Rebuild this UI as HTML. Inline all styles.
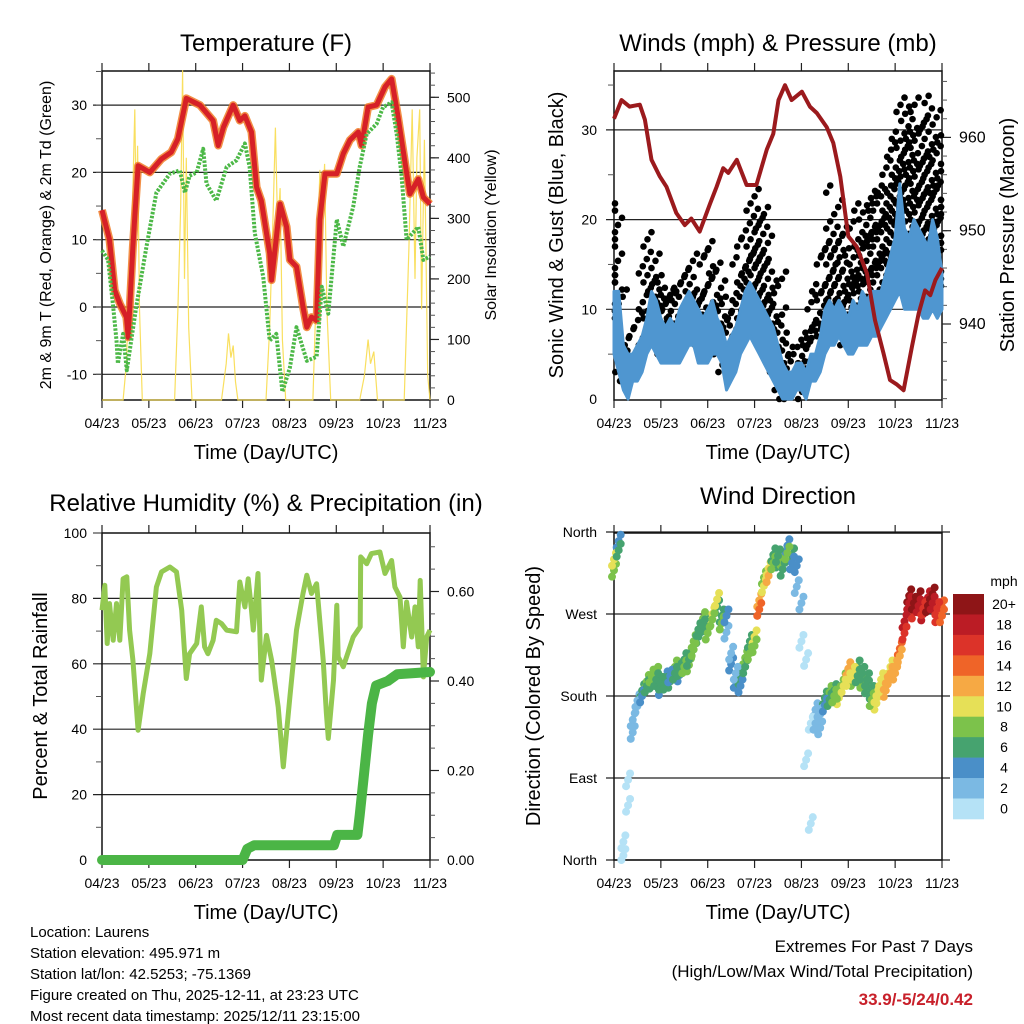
<!DOCTYPE html>
<html><head><meta charset="utf-8"><title>Station Meteogram</title>
<style>
html,body{margin:0;padding:0;background:#fff;}
svg{display:block;font-family:"Liberation Sans",Arial,sans-serif;}
</style></head>
<body>
<svg id="chart" width="1024" height="1024" viewBox="0 0 1024 1024" xmlns="http://www.w3.org/2000/svg">
<rect x="0" y="0" width="1024" height="1024" fill="#fff"/>
<g id="layer"></g>
<text x="266" y="51" font-size="24" text-anchor="middle">Temperature (F)</text>
<text x="778" y="51" font-size="24" text-anchor="middle">Winds (mph) &amp; Pressure (mb)</text>
<text x="266" y="511" font-size="24" text-anchor="middle">Relative Humidity (%) &amp; Precipitation (in)</text>
<text x="778" y="504" font-size="24" text-anchor="middle">Wind Direction</text>
<text x="266" y="459" font-size="20" text-anchor="middle">Time (Day/UTC)</text>
<text x="778" y="459" font-size="20" text-anchor="middle">Time (Day/UTC)</text>
<text x="266" y="919" font-size="20" text-anchor="middle">Time (Day/UTC)</text>
<text x="778" y="919" font-size="20" text-anchor="middle">Time (Day/UTC)</text>
<text transform="translate(51,235) rotate(-90)" font-size="16" text-anchor="middle">2m &amp; 9m T (Red, Orange) &amp; 2m Td (Green)</text>
<text transform="translate(496,235) rotate(-90)" font-size="16" text-anchor="middle">Solar Insolation (Yellow)</text>
<text transform="translate(563,235) rotate(-90)" font-size="20" text-anchor="middle">Sonic Wind &amp; Gust (Blue, Black)</text>
<text transform="translate(1014,235) rotate(-90)" font-size="20" text-anchor="middle">Station Pressure (Maroon)</text>
<text transform="translate(47,696) rotate(-90)" font-size="20" text-anchor="middle">Percent &amp; Total Rainfall</text>
<text transform="translate(540,696) rotate(-90)" font-size="20" text-anchor="middle">Direction (Colored By Speed)</text>
<text x="1004" y="586" font-size="14" text-anchor="middle">mph</text>
<g font-size="15">
<text x="30" y="937">Location: Laurens</text>
<text x="30" y="958">Station elevation: 495.971 m</text>
<text x="30" y="979">Station lat/lon: 42.5253; -75.1369</text>
<text x="30" y="1000">Figure created on Thu, 2025-12-11, at 23:23 UTC</text>
<text x="30" y="1021">Most recent data timestamp: 2025/12/11 23:15:00</text>
</g>
<text x="973" y="952" font-size="17" text-anchor="end">Extremes For Past 7 Days</text>
<text x="973" y="977" font-size="17" text-anchor="end">(High/Low/Max Wind/Total Precipitation)</text>
<text x="973" y="1005" font-size="17" font-weight="bold" fill="#c8202a" text-anchor="end">33.9/-5/24/0.42</text>
</svg>
<script>
// ---------- data ----------
const xTickLabels = ["04/23","05/23","06/23","07/23","08/23","09/23","10/23","11/23"];
const tempTicks = [-10,0,10,20,30];
const solarTicks = [0,100,200,300,400,500];
const windTicks = [0,10,20,30];
const pressTicks = [940,950,960];
const rhTicks = [0,20,40,60,80,100];
const precipTicks = [0,0.2,0.4,0.6];
const dirTicks = [0,90,180,270,360];
const dirLabels = ["North","East","South","West","North"];
const speedBins = ["20+","18","16","14","12","10","8","6","4","2","0"];

const tempT = [0,0.16,0.27,0.38,0.52,0.56,0.66,0.77,1.02,1.27,1.48,1.62,1.80,2.09,2.37,2.48,2.59,2.80,2.94,3.05,3.19,3.30,3.40,3.58,3.62,3.80,3.94,4.01,4.15,4.29,4.37,4.47,4.58,4.65,4.76,5.01,5.15,5.29,5.47,5.54,5.68,5.86,6.04,6.18,6.32,6.47,6.57,6.75,6.86,7];
const tempV = [14.4,10,2.5,0.5,-1.5,-4.5,9,21,20,22,23,25,31,30,27.7,24,26.7,30,27.7,28.4,26,17.8,15.8,8,4,15.3,11.9,7,6,0,-3,-1.5,-2,13,19.8,19.8,22.8,24.8,26,24,29.7,30,32.7,33.9,28.2,21.3,16.8,19,16.3,15.3];
const dewT = [0,0.13,0.24,0.31,0.34,0.45,0.53,0.73,0.95,1.16,1.45,1.66,1.77,1.87,2.02,2.16,2.23,2.44,2.66,2.87,3.05,3.15,3.26,3.44,3.58,3.72,3.85,4.01,4.15,4.37,4.58,4.69,4.83,5.01,5.15,5.36,5.50,5.65,5.86,6.00,6.18,6.29,6.39,6.50,6.75,6.86,7];
const dewV = [8.4,7,0,-5,-8.4,-4,-9.4,0,9,17,19.8,20.3,17,19.5,20,23.5,18.3,15.8,20.8,21.8,24.3,20.8,11,4.5,-5,-4,-12.6,-9,-3,-8,-7.4,3,-1,13,9,14.9,20.8,25.7,27.2,29.7,30.4,25.7,19.8,10,11.9,7,7.5];
const solarT = [0,0.45,0.52,0.58,0.62,0.66,0.70,0.73,0.76,0.80,0.86,1.55,1.62,1.68,1.72,1.76,1.80,1.85,1.92,2.55,2.65,2.70,2.75,2.80,2.85,2.90,3.50,3.58,3.65,3.70,3.75,3.80,3.85,3.92,4.50,4.58,4.65,4.70,4.75,4.80,4.88,5.50,5.60,5.68,5.73,5.80,5.88,6.45,6.55,6.62,6.68,6.72,6.78,6.82,6.88,6.95,7];
const solarV = [0,0,60,200,120,350,480,300,420,150,0,0,150,320,545,200,400,120,0,0,60,110,70,90,30,0,0,120,300,450,280,350,100,0,0,200,380,300,390,150,0,0,40,100,60,80,0,0,250,480,200,400,480,150,430,40,0];

const windMin = [5,3,1,0,2,2,3,5,6,5,4,4,4,4,4,5,6,6,4,4,4,5,5,4,1,2,3,5,6,7,6,5,4,3,2,1,0,0,0,1,1,0,2,2,3,5,6,6,7,6,5,5,6,6,6,7,7,8,9,10,11,12,10,10,10,10,9,9,10,9,10];
const windMax = [12,12,6,5,5,6,7,9,12,11,9,8,9,8,10,11,12,11,10,9,10,11,9,8,6,7,8,10,12,13,12,11,10,9,8,6,4,3,3,4,4,3,5,5,7,10,11,10,11,10,9,11,10,12,11,12,12,12,14,16,18,24,19,18,20,19,18,17,20,18,14];
const gustMax = [22,14,6,6,7,8,10,17,19,14,13,14,13,12,12,15,17,14,12,12,17,18,15,12,6,10,13,16,18,22,24,20,22,16,11,15,8,4,5,6,8,7,9,12,13,18,20,24,20,17,14,17,20,22,24,20,23,24,24,27,29,30,34,33,30,34,27,33,34,30,24];
const pressT = [0,0.16,0.33,0.55,0.66,0.80,0.98,1.12,1.33,1.51,1.65,1.83,2.05,2.19,2.33,2.44,2.62,2.83,3.04,3.26,3.40,3.51,3.65,3.79,4.01,4.18,4.33,4.54,4.68,4.83,5.00,5.18,5.40,5.57,5.75,5.89,6.04,6.18,6.36,6.50,6.64,6.75,6.86,7];
const pressV = [962.0,964.0,963.3,963.5,961.9,957.6,955.8,954.7,951.9,950.6,951.3,949.9,952.9,954.7,956.7,956.2,957.6,954.9,954.9,958.7,960.4,964.0,965.6,964.0,964.9,963.3,962.6,961.1,959.4,955.8,949.4,948.3,945.4,940.4,936.9,934.0,933.5,932.9,937.6,941.1,943.6,943.1,944.7,946.0];

const rhT = [0,0.06,0.11,0.16,0.24,0.31,0.38,0.45,0.53,0.59,0.66,0.77,0.88,1.02,1.16,1.27,1.45,1.59,1.70,1.80,1.87,2.02,2.12,2.19,2.26,2.37,2.44,2.55,2.66,2.87,2.94,3.05,3.12,3.19,3.23,3.33,3.40,3.51,3.62,3.76,3.87,4.01,4.15,4.29,4.37,4.47,4.58,4.72,4.79,4.83,4.94,5.01,5.04,5.15,5.36,5.51,5.52,5.65,5.75,5.93,6.04,6.18,6.25,6.36,6.43,6.50,6.61,6.68,6.75,6.79,6.86,6.93,7.0];
const rhV = [76.4,84.0,66.2,78.4,67.2,78.4,67.2,86.0,86.6,70.3,61.1,39.7,50.9,63.1,83.5,88.1,89.6,88.1,76.4,55.5,63.1,66.2,77.4,65.2,63.1,67.2,73.3,72.3,70.3,69.8,85.0,77.4,86.0,76.4,70.3,87.6,55.0,68.7,61.1,46.8,28.5,49.9,70.3,81.5,87.1,81.5,84.5,61.1,44.8,37.2,55.0,77.9,62.1,59.1,68.2,71.3,92.7,90.6,93.7,94.2,87.6,91.6,83.5,80.4,65.2,78.9,68.2,77.4,65.2,85.5,56.0,68.2,70.3];
const precipT = [0,3.0,3.1,3.25,4.95,5.02,5.45,5.5,5.6,5.68,5.76,5.85,6.1,6.3,7];
const precipV = [0,0,0.025,0.033,0.033,0.056,0.056,0.1,0.2,0.28,0.35,0.39,0.40,0.415,0.42];

const dirA = [330,340,20,88,154,169,180,191,202,198,194,194,202,205,209,212,220,231,253,257,249,264,286,260,268,227,205,191,212,227,235,275,301,312,326,334,319,337,326,323,282,220,150,150,160,170,176,180,184,191,198,205,202,205,198,176,180,191,194,205,212,224,249,282,282,279,276,279,282,276,268];
const dirB = [318,350,5,60,140,175,186,196,195,205,188,200,196,212,203,220,214,240,245,265,258,270,278,268,250,215,196,200,222,240,245,285,310,320,335,328,330,345,335,300,240,110,40,165,145,178,184,186,178,198,210,198,212,196,190,184,172,198,186,212,205,232,262,290,272,288,270,288,292,268,278];
const speedA = [11,7,1,1,2,3,5,7,9,7,6,7,5,6,7,9,7,8,7,6,9,8,11,8,4,3,3,5,7,9,9,14,11,12,9,7,6,8,5,4,2,1,1,2,3,5,7,8,9,11,10,11,7,7,6,8,10,11,12,13,12,13,16,19,20,18,17,20,18,16,14];
const speedB = [9,5,0,1,3,2,7,9,6,8,5,4,7,8,5,7,8,9,6,9,7,10,7,6,3,4,4,7,9,7,11,12,9,10,7,6,8,5,6,3,1,0,0,3,2,6,8,6,11,8,12,9,6,8,7,6,11,10,13,11,13,14,18,21,17,20,19,18,21,17,15];
const speedColors = ["#b5e2f6","#7bb9e3","#4a8fc8","#46a36f","#7cc24b","#e6e057","#f6a944","#ef6428","#dc3329","#bb1c25","#8e1517"];

// ---------- helpers ----------
const NS = "http://www.w3.org/2000/svg";
const layer = document.getElementById("layer");
function mk(tag, attrs, parent) {
  const e = document.createElementNS(NS, tag);
  for (const k in attrs) e.setAttribute(k, attrs[k]);
  (parent || layer).appendChild(e);
  return e;
}
function group(name) {
  const g = mk("g", {});
  
  
  return g;
}
const DAYW = 328 / 7;
const xL = t => 102 + t * DAYW;
const xR = t => 614 + t * DAYW;
const yTemp = v => 307 - v * 6.73;
const ySol = v => 400 - v * 0.6054;
const yWind = v => 399 - v * 8.97;
const yPress = p => 230.7 - (p - 950) * 9.33;
const yRH = v => 860 - v * 3.27;
const yPr = v => 860 - v * 447.5;
const yDir = d => 860 - d * 0.9111;
const step = i => i * 0.1;

function pts(ts, vs, fx, fy) { return ts.map((t, i) => fx(t).toFixed(1) + "," + fy(vs[i]).toFixed(1)).join(" "); }

function frame(x0, x1, y0, y1, name, gridVals, fy, gx0, gx1) {
  const g = group(name + "-axes");
  for (const v of gridVals) {
    const y = fy(v);
    const ln = mk("line", {x1: gx0, x2: gx1, y1: y, y2: y, stroke: "#222", "stroke-width": 1.2}, g);
    
    
  }
  for (let i = 0; i <= 7; i++) {
    const x = x0 + i * DAYW;
    mk("line", {x1: x, x2: x, y1: y1, y2: y1 + 8, stroke: "#222", "stroke-width": 1.2}, g);
    mk("line", {x1: x, x2: x, y1: y0, y2: y0 - 8, stroke: "#222", "stroke-width": 1.2}, g);
    const tx = mk("text", {x: x, y: y1 + 28, "font-size": 14, "text-anchor": "middle"}, g);
    tx.textContent = xTickLabels[i];
    
    
  }
  const box = mk("rect", {x: x0, y: y0, width: x1 - x0, height: y1 - y0, fill: "none", stroke: "#111", "stroke-width": 1.5}, g);
  
  
  return g;
}
function leftLabels(g, vals, labels, fy, x, size) {
  vals.forEach((v, i) => {
    const t = mk("text", {x: x, y: fy(v) + 5, "font-size": size || 14, "text-anchor": "end"}, g);
    t.textContent = labels[i];
    
    
  });
}
function rightAxis(g, x, vals, labels, fy, minorStart, minorEnd, minorStep, size) {
  for (let v = minorStart; v <= minorEnd + 1e-9; v += minorStep) {
    const y = fy(v);
    mk("line", {x1: x, x2: x + 5, y1: y, y2: y, stroke: "#555", "stroke-width": 1}, g);
  }
  vals.forEach((v, i) => {
    const y = fy(v);
    mk("line", {x1: x, x2: x + 9, y1: y, y2: y, stroke: "#222", "stroke-width": 1.2}, g);
    const t = mk("text", {x: x + 17, y: y + 5, "font-size": size || 14}, g);
    t.textContent = labels[i];
    
    
  });
}

// ---------- Panel 1: temperature ----------
const g1 = frame(102, 430, 71, 400, "temperature", tempTicks, yTemp, 93, 430);
leftLabels(g1, tempTicks, tempTicks.map(String), yTemp, 87);
for (let v = -10; v <= 35; v += 5) mk("line", {x1: 96, x2: 102, y1: yTemp(v), y2: yTemp(v), stroke: "#555"}, g1);
rightAxis(g1, 430, solarTicks, solarTicks.map(String), ySol, 0, 540, 20);
const solar = mk("polyline", {points: pts(solarT, solarV, xL, ySol), fill: "none", stroke: "#f8dc4e", "stroke-width": 1.2, opacity: 0.9});


const t9 = mk("polyline", {points: pts(tempT, tempV, xL, yTemp), fill: "none", stroke: "#f07b27", "stroke-width": 8, "stroke-linejoin": "round", opacity: 0.85});


const t2 = mk("polyline", {points: pts(tempT, tempV, xL, yTemp), fill: "none", stroke: "#d62027", "stroke-width": 5, "stroke-linejoin": "round"});


const dew = mk("polyline", {points: pts(dewT, dewV, xL, yTemp), fill: "none", stroke: "#4cb847", "stroke-width": 4, "stroke-dasharray": "2.5 1.5", "stroke-linejoin": "round"});



// ---------- Panel 2: winds ----------
const g2 = frame(614, 942, 71, 400, "winds", [10, 20, 30], yWind, 606, 942);
leftLabels(g2, windTicks, windTicks.map(String), yWind, 597);
for (let v = 5; v <= 35; v += 10) mk("line", {x1: 608, x2: 614, y1: yWind(v), y2: yWind(v), stroke: "#555"}, g2);
rightAxis(g2, 942, pressTicks, pressTicks.map(String), yPress, 932, 966, 2, 16);
const gGust = group("gust-dots");
windMax.forEach((lo, i) => {
  const hi = gustMax[i];
  let k = 0;
  for (let v = Math.max(0, lo - 3); v <= hi; v += 0.8) {
    const c = mk("circle", {cx: Math.min(941, Math.max(615, xR(step(i)) + ((k % 5) - 2) * 4)), cy: yWind(v), r: 3.3, fill: "#000"}, gGust);
    
    
    k++;
  }
});
const bandPts = windMin.map((v, i) => xR(step(i)).toFixed(1) + "," + yWind(v).toFixed(1))
  .concat(windMax.map((v, i) => xR(step(i)).toFixed(1) + "," + yWind(v).toFixed(1)).reverse()).join(" ");
const band = mk("polygon", {points: bandPts, fill: "#4f96d0", stroke: "#4f96d0", "stroke-width": 3, "stroke-linejoin": "round"});


const press = mk("polyline", {points: pts(pressT, pressV, xR, yPress), fill: "none", stroke: "#9b1a1d", "stroke-width": 4, "stroke-linejoin": "round"});



// ---------- Panel 3: RH & precip ----------
const g3 = frame(102, 430, 533, 860, "humidity", [20, 40, 60, 80], yRH, 93, 430);
leftLabels(g3, rhTicks, rhTicks.map(String), yRH, 87);
for (let v = 10; v <= 90; v += 20) mk("line", {x1: 96, x2: 102, y1: yRH(v), y2: yRH(v), stroke: "#555"}, g3);
mk("line", {x1: 93, x2: 102, y1: 533, y2: 533, stroke: "#222"}, g3);
rightAxis(g3, 430, precipTicks, precipTicks.map(v => v.toFixed(2)), yPr, 0, 0.7, 0.05);
const rh = mk("polyline", {points: pts(rhT, rhV, xL, yRH), fill: "none", stroke: "#93c952", "stroke-width": 5, "stroke-linejoin": "round"});


const pr = mk("polyline", {points: pts(precipT, precipV, xL, yPr), fill: "none", stroke: "#4bb546", "stroke-width": 10, "stroke-linejoin": "round", "stroke-linecap": "round"});



// ---------- Panel 4: wind direction ----------
const g4 = frame(614, 942, 533, 860, "direction", dirTicks, yDir, 606, 950);
leftLabels(g4, dirTicks, dirLabels, yDir, 597);
const gDir = group("direction-points");
function colorFor(s) { return speedColors[Math.max(0, Math.min(10, Math.floor(s / 2)))]; }
[[dirB, speedB], [dirA, speedA]].forEach(([dirs, sp]) => {
  dirs.forEach((d, i) => {
    [-7, 0, 7].forEach((off, j) => {
      const c = mk("circle", {cx: xR(step(i)) + (j - 1) * 2, cy: yDir(Math.max(0, Math.min(360, d + off))), r: 4, fill: colorFor(sp[i])}, gDir);
      
      
    });
  });
});
const gBar = group("speed-colorbar");
speedBins.forEach((lab, i) => {
  const y = 594 + i * 20.45;
  const r = mk("rect", {x: 953, y: y, width: 31, height: 20.8, fill: speedColors[10 - i]}, gBar);
  
  
  const t = mk("text", {x: 1004, y: y + 15, "font-size": 14, "text-anchor": "middle"}, gBar);
  t.textContent = lab;
  
  
});
</script>
</body></html>
